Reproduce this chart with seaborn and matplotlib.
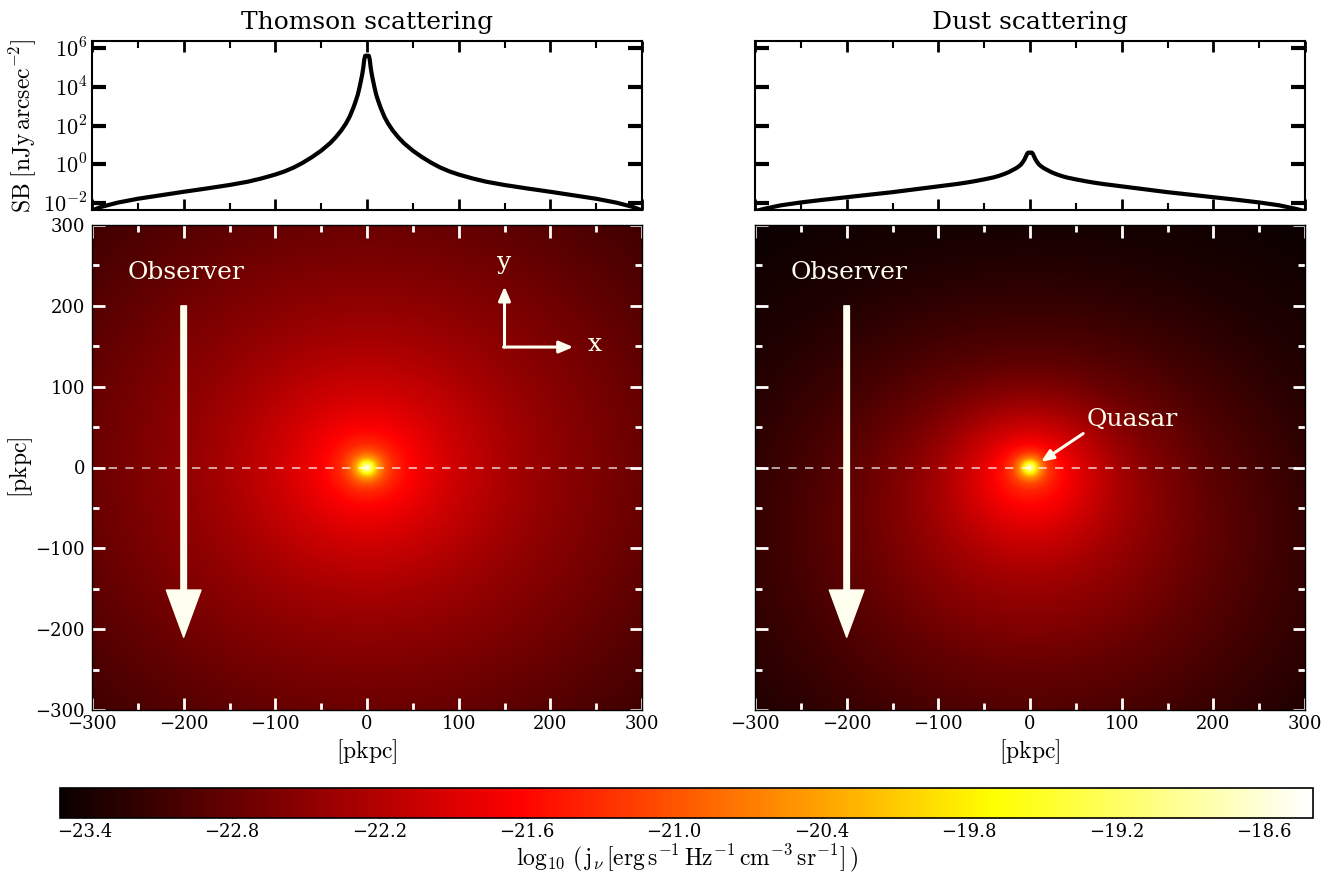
import numpy as np
import pandas as pd
import matplotlib
matplotlib.use("Agg")
import matplotlib.pyplot as plt
import seaborn as sns
from matplotlib.ticker import MultipleLocator, FixedLocator

# ---- surface-brightness profiles along the x axis (half profile, mirrored) ----
sb_dist = [0, 2, 3, 4, 5, 6, 8, 10, 12, 15, 19, 23, 28, 34, 40, 50, 60, 70, 80,
           90, 100, 115, 130, 150, 175, 200, 225, 250, 272, 290, 300]
sb_thomson_log = [5.6, 5.6, 5.4, 5.0, 4.7, 4.45, 4.0, 3.6, 3.3, 2.9, 2.45, 2.1,
                  1.75, 1.4, 1.1, 0.7, 0.37, 0.08, -0.17, -0.37, -0.53, -0.73,
                  -0.9, -1.07, -1.25, -1.42, -1.6, -1.78, -1.98, -2.2, -2.38]
sb_dust_log = [0.6, 0.6, 0.55, 0.45, 0.35, 0.25, 0.1, -0.02, -0.1, -0.2, -0.3,
               -0.4, -0.5, -0.6, -0.68, -0.78, -0.87, -0.95, -1.02, -1.08, -1.14,
               -1.23, -1.32, -1.44, -1.57, -1.7, -1.83, -1.97, -2.12, -2.3, -2.42]

# ---- emissivity maps: log10 j_nu versus radius from the quasar ----
map_radius = [0, 4, 8, 12, 20, 30, 45, 60, 80, 100, 130, 160, 200, 250, 300, 350, 430]
thomson_log_j = [-18.45, -19.0, -19.8, -20.4, -21.0, -21.35, -21.6, -21.75, -21.9,
                 -22.03, -22.18, -22.32, -22.47, -22.62, -22.76, -22.9, -23.1]
dust_side_log_j = [-18.45, -19.2, -20.0, -20.6, -21.2, -21.5, -21.75, -21.95, -22.15,
                   -22.35, -22.55, -22.7, -22.9, -23.05, -23.2, -23.3, -23.45]
dust_up_log_j = [-18.45, -19.2, -20.0, -20.7, -21.3, -21.65, -21.95, -22.15, -22.4,
                 -22.6, -22.85, -23.0, -23.15, -23.3, -23.4, -23.45, -23.5]
dust_down_log_j = [-18.45, -19.2, -19.9, -20.5, -21.1, -21.4, -21.6, -21.75, -21.95,
                   -22.1, -22.3, -22.45, -22.6, -22.8, -22.95, -23.1, -23.3]

cbar_ticks = [-23.4, -22.8, -22.2, -21.6, -21.0, -20.4, -19.8, -19.2, -18.6]
sb_ticks = [1e-2, 1e0, 1e2, 1e4, 1e6]
sb_ticklabels = [r"$10^{-2}$", r"$10^{0}$", r"$10^{2}$", r"$10^{4}$", r"$10^{6}$"]
titles = ["Thomson scattering", "Dust scattering"]

VMIN, VMAX = -23.5, -18.4
HALF = 300

sns.set_theme(style="ticks")
plt.rcParams["font.family"] = ["DejaVu Serif"]
plt.rcParams["mathtext.fontset"] = "cm"
plt.rcParams["axes.linewidth"] = 1.2
plt.rcParams["text.color"] = "black"
plt.rcParams["axes.labelcolor"] = "black"
plt.rcParams["axes.edgecolor"] = "black"

cmap = sns.color_palette("hot", as_cmap=True)
ivory = "#fffff0"


def mirrored(dist, vals):
    d = np.asarray(dist, float)
    v = np.asarray(vals, float)
    x = np.concatenate([-d[::-1], d[1:]])
    y = np.concatenate([v[::-1], v[1:]])
    return pd.DataFrame({"x": x, "sb": 10.0 ** y})


n = 241
g = np.linspace(-HALF, HALF, n)
X, Y = np.meshgrid(g, g)
R = np.hypot(X, Y)
cosang = np.divide(Y, R, out=np.zeros_like(Y), where=R > 0)

thomson_map = np.interp(R, map_radius, thomson_log_j)
side = np.interp(R, map_radius, dust_side_log_j)
up = np.interp(R, map_radius, dust_up_log_j)
down = np.interp(R, map_radius, dust_down_log_j)
dust_map = (side + np.clip(cosang, 0, None) * (up - side)
            + np.clip(-cosang, 0, None) * (down - side))

fig = plt.figure(figsize=(13.42, 8.75), dpi=100)
W, H = 1342.0, 875.0


def px_axes(x0, y0, x1, y1):
    return fig.add_axes([x0 / W, 1 - y1 / H, (x1 - x0) / W, (y1 - y0) / H])


cols = [(92, 642), (755, 1305)]
profiles = [mirrored(sb_dist, sb_thomson_log), mirrored(sb_dist, sb_dust_log)]
maps = [thomson_map, dust_map]

for i, (x0, x1) in enumerate(cols):
    ax_sb = px_axes(x0, 41, x1, 210)
    sns.lineplot(data=profiles[i], x="x", y="sb", ax=ax_sb, color="black",
                 lw=3, sort=False)
    ax_sb.set_yscale("log")
    ax_sb.set_xlim(-HALF, HALF)
    ax_sb.set_ylim(10 ** -2.36, 10 ** 6.36)
    ax_sb.yaxis.set_major_locator(FixedLocator(sb_ticks))
    ax_sb.yaxis.set_minor_locator(FixedLocator([]))
    ax_sb.xaxis.set_major_locator(MultipleLocator(100))
    ax_sb.xaxis.set_minor_locator(MultipleLocator(50))
    ax_sb.tick_params(axis="y", which="major", direction="in", length=10, width=3,
                      left=True, right=True, labelsize=16, color="black",
                      labelcolor="black")
    ax_sb.tick_params(axis="x", which="major", direction="in", length=8, width=2,
                      top=True, bottom=True, labelbottom=False, color="black")
    ax_sb.tick_params(axis="x", which="minor", direction="in", length=5, width=1.5,
                      top=True, bottom=True, color="black")
    ax_sb.set_xlabel("")
    if i == 0:
        ax_sb.set_yticklabels(sb_ticklabels)
        ax_sb.set_ylabel(r"$\mathrm{SB}\;[\mathrm{nJy\,arcsec^{-2}}]$", fontsize=17,
                         labelpad=3)
    else:
        ax_sb.set_yticklabels([])
        ax_sb.set_ylabel("")
    ax_sb.set_title(titles[i], fontsize=18, pad=9, color="black")
    for s in ax_sb.spines.values():
        s.set_linewidth(1.5)
        s.set_color("black")

    ax = px_axes(x0, 225, x1, 710)
    im = ax.imshow(maps[i], origin="lower", extent=[-HALF, HALF, -HALF, HALF],
                   cmap=cmap, vmin=VMIN, vmax=VMAX, aspect="auto",
                   interpolation="bilinear")
    ax.set_xlim(-HALF, HALF)
    ax.set_ylim(-HALF, HALF)
    ax.axhline(0, color="white", alpha=0.75, lw=1.2, ls=(0, (5, 5)))
    ax.xaxis.set_major_locator(MultipleLocator(100))
    ax.xaxis.set_minor_locator(MultipleLocator(50))
    ax.yaxis.set_major_locator(MultipleLocator(100))
    ax.yaxis.set_minor_locator(MultipleLocator(50))
    ax.tick_params(which="major", direction="in", length=9, width=2, color="white",
                   top=True, bottom=True, left=True, right=True, labelsize=13,
                   labelcolor="black")
    ax.tick_params(axis="y", which="major", pad=5)
    ax.tick_params(which="minor", direction="in", length=5, width=2, color="white",
                   top=True, bottom=True, left=True, right=True)
    ax.set_xlabel(r"$[\mathrm{pkpc}]$", fontsize=17, labelpad=3)
    if i == 0:
        ax.set_ylabel(r"$[\mathrm{pkpc}]$", fontsize=17, labelpad=0)
    else:
        ax.set_yticklabels([])
    for s in ax.spines.values():
        s.set_linewidth(1.0)
        s.set_color("black")

    # observer direction
    ax.annotate("", xy=(-200, -210), xytext=(-200, 200),
                arrowprops=dict(facecolor=ivory, edgecolor=ivory, width=4,
                                headwidth=25, headlength=34))
    ax.text(-197, 241, "Observer", color=ivory, fontsize=18, ha="center",
            va="center")

    if i == 0:
        kw = dict(arrowstyle="-|>,head_length=0.7,head_width=0.3", color=ivory,
                  lw=2.2, shrinkA=0, shrinkB=0)
        ax.annotate("", xy=(150, 224), xytext=(150, 149), arrowprops=kw)
        ax.annotate("", xy=(225, 149), xytext=(149, 149), arrowprops=kw)
        ax.text(150, 254, "y", color=ivory, fontsize=18, ha="center", va="center")
        ax.text(249, 152, "x", color=ivory, fontsize=18, ha="center", va="center")
    else:
        ax.annotate("", xy=(12, 7), xytext=(58, 42),
                    arrowprops=dict(arrowstyle="-|>,head_length=0.6,head_width=0.25",
                                    color=ivory, lw=2.2, shrinkA=0, shrinkB=0))
        ax.text(62, 59, "Quasar", color=ivory, fontsize=18, ha="left", va="center")

cax = px_axes(60, 788, 1313, 818)
cb = fig.colorbar(im, cax=cax, orientation="horizontal", ticks=cbar_ticks)
cb.ax.tick_params(direction="in", length=6, width=1, color="black", labelsize=13,
                  labelcolor="black", bottom=True, top=False)
cb.outline.set_linewidth(1.2)
cb.outline.set_edgecolor("black")
cb.set_label(r"$\log_{10}\,(\,\mathrm{j}_\nu\,[\mathrm{erg\,s^{-1}\,Hz^{-1}\,cm^{-3}\,sr^{-1}}]\,)$",
             fontsize=17, labelpad=1, color="black")

fig.savefig("out.png", dpi=100)
